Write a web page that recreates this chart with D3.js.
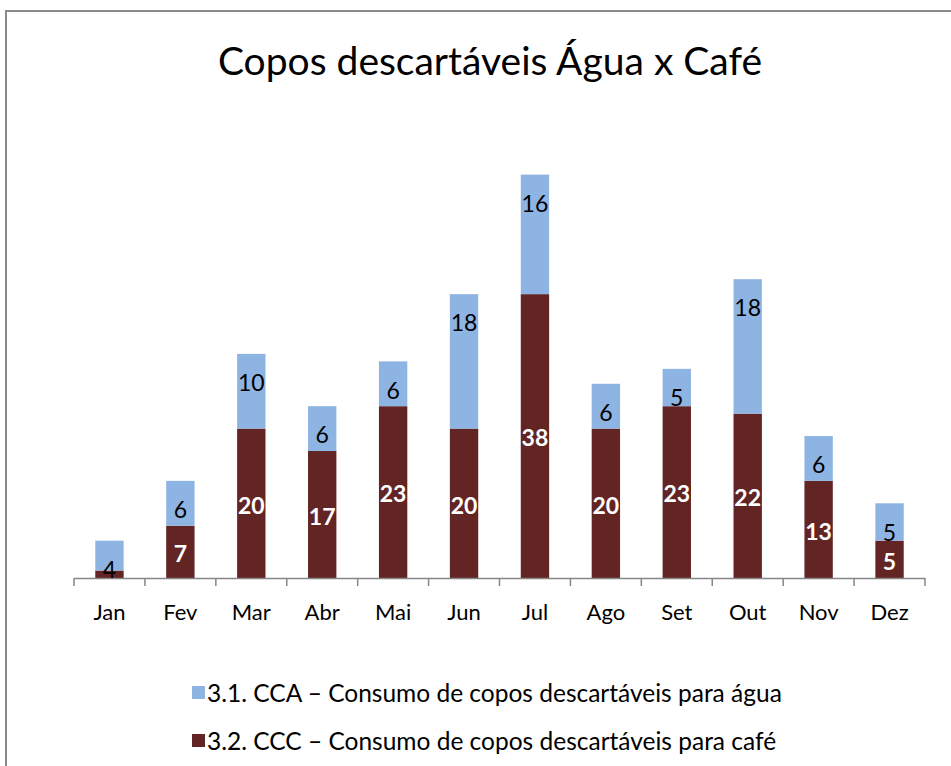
<!DOCTYPE html>
<html><head><meta charset="utf-8">
<script src="https://cdn.jsdelivr.net/npm/d3@7"></script>
<style>body{margin:0;background:#fff}svg{display:block}</style>
</head><body>
<svg id="c" width="951" height="766"></svg>
<script>
const months = ["Jan","Fev","Mar","Abr","Mai","Jun","Jul","Ago","Set","Out","Nov","Dez"];
const cafe  = [1,7,20,17,23,20,38,20,23,22,13,5];
const agua  = [4,6,10,6,6,18,16,6,5,18,6,5];
const seriesNames = ["3.1. CCA \u2013 Consumo de copos descart\u00e1veis para \u00e1gua","3.2. CCC \u2013 Consumo de copos descart\u00e1veis para caf\u00e9"];
const title = "Copos descart\u00e1veis \u00c1gua x Caf\u00e9";

const colAgua = "#8EB4E3", colCafe = "#632523";
const font = "Lato, 'Open Sans', sans-serif";
const svg = d3.select("#c");

svg.append("rect").attr("x",6).attr("y",11).attr("width",960).attr("height",800)
  .attr("fill","#fff").attr("stroke","#8a8a8a").attr("stroke-width",2);

svg.append("text").attr("x",490).attr("y",75).attr("text-anchor","middle")
  .attr("font-family",font).attr("font-size",39).attr("fill","#000").text(title);

const x = d3.scaleBand().domain(months).range([74,925]).paddingInner(0.6).paddingOuter(0.3);
const y = d3.scaleLinear().domain([0,60]).range([578,129.8]);

const data = months.map((m,i)=>({m, cafe:cafe[i], agua:agua[i]}));
const stack = d3.stack().keys(["cafe","agua"])(data);
const colors = {cafe:colCafe, agua:colAgua};

stack.forEach(s=>{
  svg.append("g").selectAll("rect").data(s).join("rect")
    .attr("x",d=>x(d.data.m)).attr("width",x.bandwidth())
    .attr("y",d=>y(d[1])).attr("height",d=>y(d[0])-y(d[1]))
    .attr("fill",colors[s.key]);
});

// axis
const band = (925-74)/12;
const ax = svg.append("g");
ax.append("line").attr("x1",74).attr("x2",925).attr("y1",578.5).attr("y2",578.5).attr("stroke","#868686").attr("stroke-width",1.5);
ax.selectAll("line.t").data(d3.range(13)).join("line").attr("class","t")
  .attr("x1",i=>74+i*band).attr("x2",i=>74+i*band).attr("y1",578).attr("y2",586)
  .attr("stroke","#868686").attr("stroke-width",1.5);
ax.selectAll("text").data(months).join("text")
  .attr("x",m=>x(m)+x.bandwidth()/2).attr("y",620).attr("text-anchor","middle")
  .attr("font-family",font).attr("font-size",22).attr("fill","#000").text(m=>m);

// labels (segments too short to hold a label show none, as in the reference)
const lbl = svg.append("g").attr("font-family",font).attr("font-size",23).attr("text-anchor","middle");
lbl.selectAll("text.c").data(stack[0].filter(d=>y(d[0])-y(d[1])>12)).join("text").attr("class","c")
  .attr("x",d=>x(d.data.m)+x.bandwidth()/2).attr("y",d=>(y(d[0])+y(d[1]))/2+2)
  .attr("dy","0.36em").attr("fill","#fff").attr("font-weight","bold").text(d=>d.data.cafe);
lbl.selectAll("text.a").data(stack[1]).join("text").attr("class","a")
  .attr("x",d=>x(d.data.m)+x.bandwidth()/2).attr("y",d=>y(d[1])+29)
  .attr("dy","0.36em").attr("fill","#000").text(d=>d.data.agua);

// legend
const leg = svg.append("g").attr("font-family",font).attr("font-size",24.5);
[[colAgua,seriesNames[0],693],[colCafe,seriesNames[1],741]].forEach(([c,t,cy])=>{
  leg.append("rect").attr("x",192).attr("y",cy-7).attr("width",13).attr("height",13).attr("fill",c);
  leg.append("text").attr("x",207).attr("y",cy).attr("dy","0.36em").attr("fill","#000").text(t);
});
</script>
</body></html>
